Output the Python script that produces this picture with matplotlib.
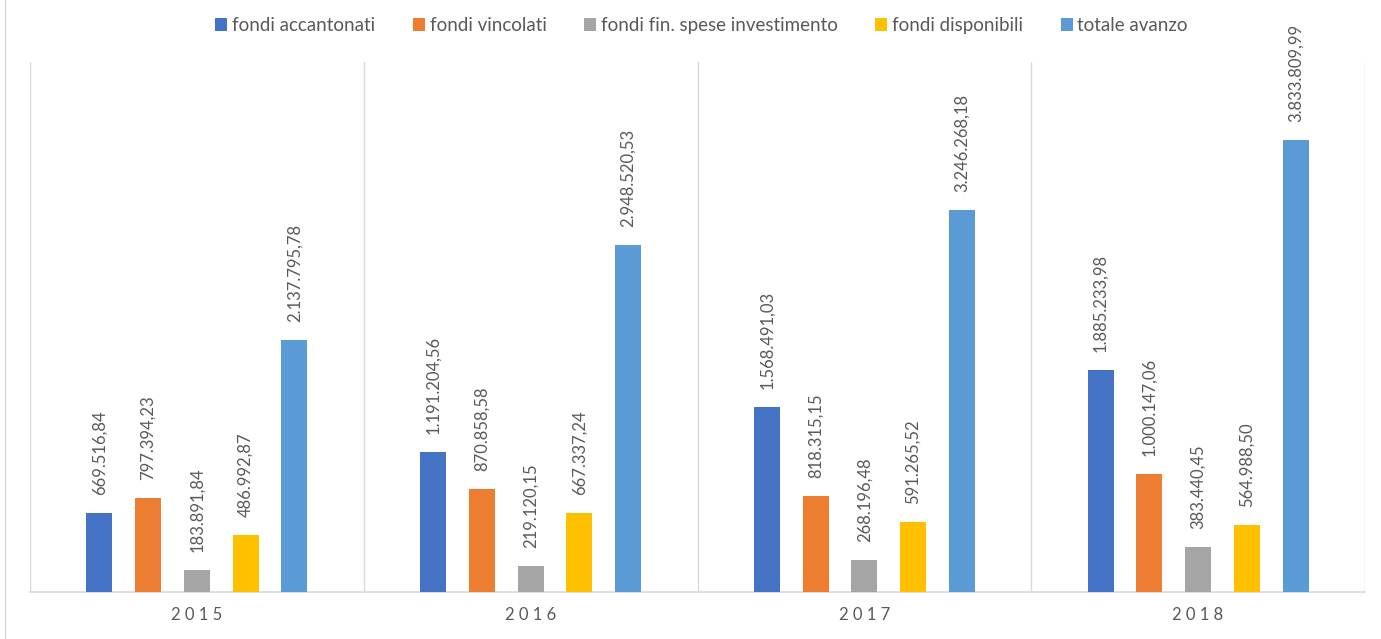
import matplotlib.pyplot as plt
import numpy as np
from matplotlib.lines import Line2D

# dati
anni = ['2015', '2016', '2017', '2018']
serie = ['fondi accantonati', 'fondi vincolati', 'fondi fin. spese investimento',
         'fondi disponibili', 'totale avanzo']
fondi_accantonati = [669516.84, 1191204.56, 1568491.03, 1885233.98]
fondi_vincolati = [797394.23, 870858.58, 818315.15, 1000147.06]
fondi_fin_spese = [183891.84, 219120.15, 268196.48, 383440.45]
fondi_disponibili = [486992.87, 667337.24, 591265.52, 564988.50]
totale_avanzo = [2137795.78, 2948520.53, 3246268.18, 3833809.99]

valori = [fondi_accantonati, fondi_vincolati, fondi_fin_spese, fondi_disponibili, totale_avanzo]
colori = ['#4472C4', '#ED7D31', '#A5A5A5', '#FFC000', '#5B9BD5']
grigio_testo = '#595959'
grigio_linee = '#D9D9D9'


def formato_it(v):
    s = f'{v:,.2f}'
    return s.replace(',', 'X').replace('.', ',').replace('X', '.')


plt.rcParams['font.family'] = ['Lato', 'DejaVu Sans']

fig = plt.figure(figsize=(13.81, 6.39), dpi=100)
ax = fig.add_axes([30 / 1381, 47 / 639, 1335 / 1381, 530 / 639])

x = np.arange(len(anni))
passo = 0.146
larghezza = 0.078
for i, (nome, vals, col) in enumerate(zip(serie, valori, colori)):
    pos = x + (i - 2) * passo
    barre = ax.bar(pos, vals, width=larghezza, color=col, label=nome, zorder=3)
    for b, v in zip(barre, vals):
        ax.annotate(formato_it(v), (b.get_x() + b.get_width() / 2, b.get_height()),
                    xytext=(0, 13), textcoords='offset points', rotation=90,
                    ha='center', va='bottom', fontsize=12, color=grigio_testo)

ax.set_xlim(-0.5, 3.5)
ax.set_ylim(0, 4500000)
ax.set_yticks([])
ax.set_xticks(x)
ax.set_xticklabels([' '.join(a) for a in anni], fontsize=12, color=grigio_testo)
ax.tick_params(axis='x', length=0, pad=11)

for sep in np.arange(-0.5, 4, 1):
    ax.axvline(sep, color=grigio_linee, linewidth=1, zorder=1)
for lato in ['top', 'left', 'right']:
    ax.spines[lato].set_visible(False)
ax.spines['bottom'].set_color(grigio_linee)
ax.spines['bottom'].set_linewidth(1.2)

fig.legend(loc='upper center', bbox_to_anchor=(0.508, 1.0), ncol=5, frameon=False,
           fontsize=13.5, handlelength=0.65, handleheight=0.65, handletextpad=0.25,
           columnspacing=2.0, labelcolor=grigio_testo)

fig.add_artist(Line2D([5 / 1381, 5 / 1381], [0, 1], color=grigio_linee, linewidth=1))

plt.savefig('out.png', dpi=100)
